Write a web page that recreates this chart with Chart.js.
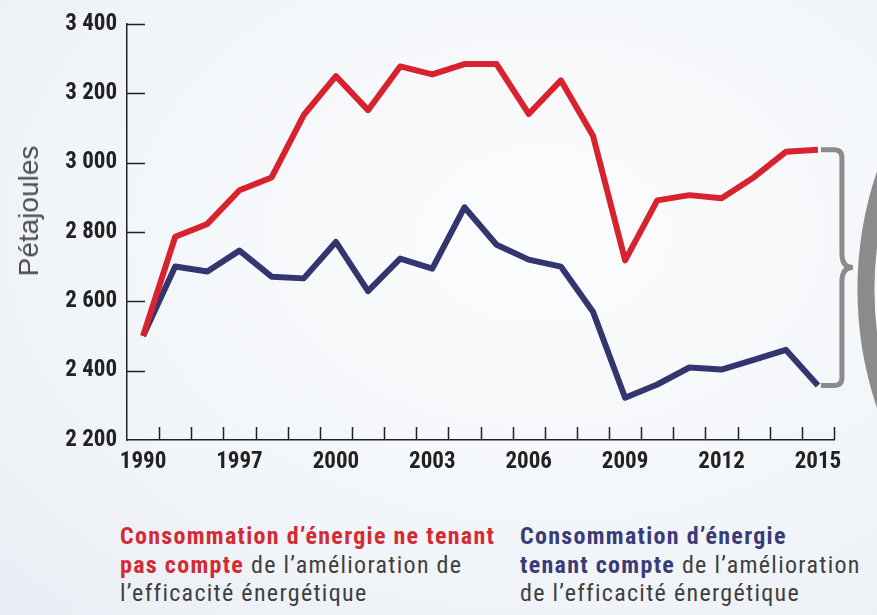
<!DOCTYPE html>
<html>
<head>
<meta charset="utf-8">
<script src="https://cdn.jsdelivr.net/npm/chart.js@4"></script>
<style>
  html, body { margin: 0; padding: 0; }
  body {
    width: 877px; height: 615px; overflow: hidden; position: relative;
    background: radial-gradient(ellipse at 62% 38%, #fbfcfd 0%, #f3f6f9 55%, #e9eef4 100%);
    font-family: "Roboto Condensed", "Liberation Sans Narrow", "DejaVu Sans Condensed", sans-serif;
    font-stretch: condensed;
  }
  #wrap { position: absolute; left: 0; top: 0; width: 877px; height: 490px; }
  #ytitle {
    position: absolute; left: 29px; top: 211px;
    transform: translate(-50%, -50%) rotate(-90deg);
    font-family: "Liberation Sans", Arial, sans-serif; font-stretch: normal; font-size: 28px; color: #4d4d4d;
    white-space: nowrap;
  }
  .note { position: absolute; top: 522px; font-size: 24px; letter-spacing: 1.3px; line-height: 28.5px; color: #3f3f3f; white-space: nowrap; }
  .note b { font-weight: bold; }
  .red { color: #d52a33; }
  .blue { color: #3a3b77; }
</style>
</head>
<body>
<div id="wrap"><canvas id="chart"></canvas></div>
<div id="ytitle">Pétajoules</div>
<div class="note" style="left:120px"><b class="red">Consommation d’énergie ne tenant<br>pas compte</b> de l’amélioration de<br>l’efficacité énergétique</div>
<div class="note" style="left:520px"><b class="blue">Consommation d’énergie<br>tenant compte</b> de l’amélioration<br>de l’efficacité énergétique</div>
<script>
const years = ['1990', '1995', '1996', '1997', '1998', '1999', '2000', '2001', '2002', '2003', '2004',
  '2005', '2006', '2007', '2008', '2009', '2010', '2011', '2012', '2013', '2014', '2015']
const shownYears = ['1990', '1997', '2000', '2003', '2006', '2009', '2012', '2015']
const withoutEfficiency = [2500, 2786, 2823, 2920, 2957, 3137, 3249, 3151, 3277, 3254, 3284,
  3284, 3140, 3237, 3077, 2718, 2891, 2906, 2897, 2957, 3031, 3037]
const withEfficiency = [2500, 2700, 2686, 2746, 2671, 2666, 2771, 2629, 2723, 2694, 2871,
  2763, 2720, 2700, 2570, 2322, 2360, 2409, 2403, 2431, 2460, 2357]
const yTicks = [2200, 2400, 2600, 2800, 3000, 3200, 3400]

const RED = '#d8222e'
const NAVY = '#33356f'
const AXIS = '#222222'
const tickFont = { family: '"Roboto Condensed", "Liberation Sans Narrow", "DejaVu Sans Condensed", sans-serif', size: 23, weight: 'bold' }

// condensed face for the canvas text, if the family has one
const condensed = {
  id: 'condensed',
  beforeDraw(chart) {
    if ('fontStretch' in chart.ctx) chart.ctx.fontStretch = 'condensed'
  }
}

// inward tick marks + the grey brace on the right
const decorations = {
  id: 'decorations',
  afterDraw(chart) {
    const { ctx } = chart
    const x = chart.scales.x
    const y = chart.scales.y
    ctx.save()
    ctx.strokeStyle = AXIS
    ctx.lineWidth = 1.5
    ctx.beginPath()
    yTicks.slice(1).forEach((v) => {
      const py = Math.round(y.getPixelForValue(v)) + 0.5
      ctx.moveTo(x.left, py)
      ctx.lineTo(x.left + 18, py)
    })
    const half = (x.getPixelForValue(1) - x.getPixelForValue(0)) / 2
    years.forEach((yr, i) => {
      const px = Math.round(x.getPixelForValue(i) + half) + 0.5
      ctx.moveTo(px, y.bottom)
      ctx.lineTo(px, y.bottom - 13)
    })
    ctx.stroke()

    const last = years.length - 1
    const lx = x.getPixelForValue(last)
    const yt = y.getPixelForValue(withoutEfficiency[last])
    const yb = y.getPixelForValue(withEfficiency[last])
    const mid = (yt + yb) / 2
    const x0 = lx + 3, x1 = lx + 24, tip = lx + 35, r = 8
    ctx.strokeStyle = '#8b8b8b'
    ctx.lineWidth = 5
    ctx.lineCap = 'butt'
    ctx.beginPath()
    ctx.moveTo(x0, yt)
    ctx.lineTo(x1 - r, yt)
    ctx.quadraticCurveTo(x1, yt, x1, yt + r)
    ctx.lineTo(x1, mid - 14)
    ctx.quadraticCurveTo(x1, mid, tip, mid)
    ctx.quadraticCurveTo(x1, mid, x1, mid + 14)
    ctx.lineTo(x1, yb - r)
    ctx.quadraticCurveTo(x1, yb, x1 - r, yb)
    ctx.lineTo(x0, yb)
    ctx.stroke()

    ctx.lineWidth = 17
    ctx.beginPath()
    ctx.arc(tip + 13 + 360, mid + 22, 360, Math.PI * 0.8, Math.PI * 1.2)
    ctx.stroke()
    ctx.restore()
  }
}

const ctx = document.getElementById('chart').getContext('2d')
new Chart(ctx, {
  type: 'line',
  data: {
    labels: years,
    datasets: [
      {
        label: 'Consommation d’énergie ne tenant pas compte de l’amélioration de l’efficacité énergétique',
        data: withoutEfficiency,
        borderColor: RED,
        borderWidth: 6,
        borderJoinStyle: 'round',
        pointRadius: 0,
        tension: 0
      },
      {
        label: 'Consommation d’énergie tenant compte de l’amélioration de l’efficacité énergétique',
        data: withEfficiency,
        borderColor: NAVY,
        borderWidth: 6,
        borderJoinStyle: 'round',
        pointRadius: 0,
        tension: 0
      }
    ]
  },
  options: {
    responsive: true,
    maintainAspectRatio: false,
    animation: false,
    events: [],
    layout: { padding: { top: 19, right: 43, bottom: 10, left: 0 } },
    plugins: {
      legend: { display: false },
      tooltip: { enabled: false }
    },
    scales: {
      x: {
        offset: true,
        grid: { display: true, drawOnChartArea: false, drawTicks: false },
        border: { display: true, color: AXIS, width: 1.5 },
        ticks: {
          autoSkip: false,
          maxRotation: 0,
          padding: 8,
          color: AXIS,
          font: tickFont,
          callback: function (value) {
            const label = this.getLabelForValue(value)
            return shownYears.includes(label) ? label : ''
          }
        },
        afterFit: (scale) => { scale.height = 40 }
      },
      y: {
        min: 2200,
        max: 3400,
        grid: { display: true, drawOnChartArea: false, drawTicks: false },
        border: { display: true, color: AXIS, width: 1.5 },
        ticks: {
          stepSize: 200,
          padding: 10,
          color: AXIS,
          font: tickFont,
          callback: (v) => String(v).replace(/(\d)(\d{3})$/, '$1 $2')
        },
        afterFit: (scale) => { scale.width = 127 }
      }
    }
  },
  plugins: [condensed, decorations]
})
</script>
</body>
</html>
